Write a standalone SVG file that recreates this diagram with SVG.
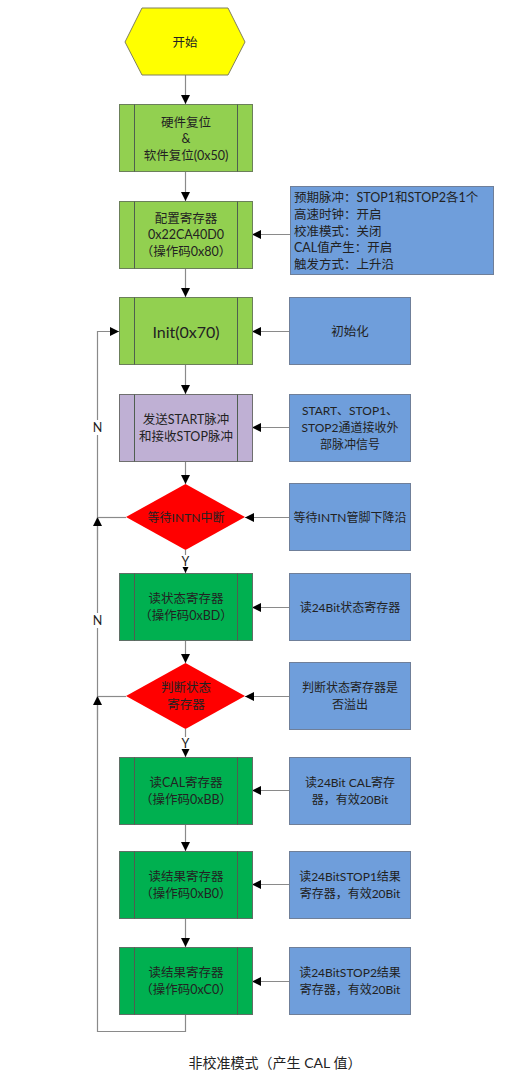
<svg xmlns="http://www.w3.org/2000/svg" width="532" height="1072" viewBox="0 0 532 1072">
<defs>
<marker id="ah" viewBox="0 0 10 10" refX="10" refY="5" markerWidth="9" markerHeight="9" markerUnits="userSpaceOnUse" orient="auto">
<path d="M0,0 L10,5 L0,10 z" fill="#000"/>
</marker>
<style>
text{font-family:Lato,"Noto Sans CJK SC",sans-serif;font-size:12.5px;fill:#222;text-anchor:middle;dominant-baseline:central}
.lg{fill:#92D050;stroke:#6b7f5a;stroke-width:1}
.dg{fill:#00B050;stroke:#5f6f66;stroke-width:1}
.pu{fill:#BFB0D4;stroke:#6f6f6f;stroke-width:1}
.bl{fill:#6F9EDB;stroke:#6f7f99;stroke-width:1}
.rd{fill:#FF0000;stroke:none}
.in{stroke:#4f5f4f;stroke-width:1;fill:none}
.c{stroke:#8a8a8a;stroke-width:1.2;fill:none}
.ca{stroke:#8a8a8a;stroke-width:1.2;fill:none;marker-end:url(#ah)}
.lt{text-anchor:start}
.sm{font-size:12px}
</style>
</defs>
<rect width="532" height="1072" fill="#fff"/>

<g id="connectors">
<line class="ca" x1="185.5" y1="75" x2="185.5" y2="104"/>
<line class="ca" x1="185.5" y1="172" x2="185.5" y2="201"/>
<line class="ca" x1="185.5" y1="268" x2="185.5" y2="297"/>
<line class="ca" x1="185.5" y1="364" x2="185.5" y2="394"/>
<line class="ca" x1="185.5" y1="461" x2="185.5" y2="484"/>
<line class="ca" x1="185.5" y1="550" x2="185.5" y2="573"/>
<line class="ca" x1="185.5" y1="641" x2="185.5" y2="663"/>
<line class="ca" x1="185.5" y1="729" x2="185.5" y2="757"/>
<line class="ca" x1="185.5" y1="824" x2="185.5" y2="851"/>
<line class="ca" x1="185.5" y1="918" x2="185.5" y2="947"/>
<line class="ca" x1="290" y1="234.5" x2="252" y2="234.5"/>
<line class="ca" x1="289" y1="331.5" x2="252" y2="331.5"/>
<line class="ca" x1="289" y1="427.5" x2="252" y2="427.5"/>
<line class="ca" x1="289" y1="517.5" x2="245" y2="517.5"/>
<line class="ca" x1="289" y1="607.5" x2="252" y2="607.5"/>
<line class="ca" x1="289" y1="696.5" x2="245" y2="696.5"/>
<line class="ca" x1="289" y1="790.5" x2="252" y2="790.5"/>
<line class="ca" x1="289" y1="884.5" x2="252" y2="884.5"/>
<line class="ca" x1="289" y1="981.5" x2="252" y2="981.5"/>
<polyline class="c" points="185.5,1014 185.5,1031.5 97.5,1031.5 97.5,696"/>
<line class="ca" x1="97.5" y1="720" x2="97.5" y2="696"/>
<line class="c" x1="126" y1="696.5" x2="97.5" y2="696.5"/>
<line class="c" x1="97.5" y1="696" x2="97.5" y2="517"/>
<line class="ca" x1="97.5" y1="540" x2="97.5" y2="517"/>
<line class="c" x1="126" y1="517.5" x2="97.5" y2="517.5"/>
<polyline class="ca" points="97.5,517 97.5,331.5 119,331.5"/>
<rect x="90" y="420" width="15" height="15" fill="#fff"/>
<text x="97.5" y="427.5">N</text>
<rect x="90" y="613" width="15" height="15" fill="#fff"/>
<text x="97.5" y="620">N</text>
<rect x="179" y="555" width="13" height="12" fill="#fff"/>
<text x="185.5" y="561">Y</text>
<rect x="179" y="737" width="13" height="12" fill="#fff"/>
<text x="185.5" y="743">Y</text>
</g>

<g id="start">
<polygon points="125,42 142,8 228,8 245,42 228,75 142,75" fill="#FFFF00" stroke="#7f7f5f" stroke-width="1"/>
<text x="185" y="42">开始</text>
</g>

<g id="reset">
<rect class="lg" x="119.5" y="104.5" width="133" height="67"/>
<line class="in" x1="134.5" y1="104.5" x2="134.5" y2="171.5"/>
<line class="in" x1="237.5" y1="104.5" x2="237.5" y2="171.5"/>
<text x="186" y="122">硬件复位</text>
<text x="186" y="138">&amp;</text>
<text x="186" y="155">软件复位(0x50)</text>
</g>

<g id="config">
<rect class="lg" x="119.5" y="201.5" width="133" height="67"/>
<line class="in" x1="134.5" y1="201.5" x2="134.5" y2="268.5"/>
<line class="in" x1="237.5" y1="201.5" x2="237.5" y2="268.5"/>
<text x="186" y="218">配置寄存器</text>
<text x="186" y="234">0x22CA40D0</text>
<text x="186" y="251">（操作码0x80）</text>
</g>

<g id="note-config">
<rect class="bl" x="290.5" y="186.5" width="203" height="88"/>
<text class="lt" x="294" y="197">预期脉冲：STOP1和STOP2各1个</text>
<text class="lt" x="294" y="214">高速时钟：开启</text>
<text class="lt" x="294" y="231">校准模式：关闭</text>
<text class="lt" x="294" y="247">CAL值产生：开启</text>
<text class="lt" x="294" y="264">触发方式：上升沿</text>
</g>

<g id="init">
<rect class="lg" x="119.5" y="297.5" width="133" height="67"/>
<line class="in" x1="134.5" y1="297.5" x2="134.5" y2="364.5"/>
<line class="in" x1="237.5" y1="297.5" x2="237.5" y2="364.5"/>
<text x="186" y="331" style="font-size:16px">Init(0x70)</text>
</g>

<g id="note-init">
<rect class="bl" x="289.5" y="297.5" width="121" height="67"/>
<text x="350" y="331">初始化</text>
</g>

<g id="pulse">
<rect class="pu" x="119.5" y="394.5" width="133" height="67"/>
<line class="in" x1="134.5" y1="394.5" x2="134.5" y2="461.5"/>
<line class="in" x1="237.5" y1="394.5" x2="237.5" y2="461.5"/>
<text x="186" y="419">发送START脉冲</text>
<text x="186" y="436">和接收STOP脉冲</text>
</g>

<g id="note-pulse">
<rect class="bl" x="289.5" y="394.5" width="121" height="67"/>
<text class="sm" x="350" y="410">START、STOP1、</text>
<text class="sm" x="350" y="427">STOP2通道接收外</text>
<text class="sm" x="350" y="444">部脉冲信号</text>
</g>

<g id="wait-intn">
<polygon class="rd" points="126,517 185.5,484 245,517 185.5,550"/>
<text class="sm" x="186" y="517">等待INTN中断</text>
</g>

<g id="note-intn">
<rect class="bl" x="289.5" y="483.5" width="121" height="67"/>
<text class="sm" x="350" y="517">等待INTN管脚下降沿</text>
</g>

<g id="read-status">
<rect class="dg" x="119.5" y="573.5" width="133" height="67"/>
<line class="in" x1="134.5" y1="573.5" x2="134.5" y2="640.5"/>
<line class="in" x1="237.5" y1="573.5" x2="237.5" y2="640.5"/>
<text x="186" y="598">读状态寄存器</text>
<text x="186" y="615">（操作码0xBD）</text>
</g>

<g id="note-status">
<rect class="bl" x="289.5" y="573.5" width="121" height="67"/>
<text class="sm" x="350" y="607">读24Bit状态寄存器</text>
</g>

<g id="check-status">
<polygon class="rd" points="126,696 185.5,663 245,696 185.5,729"/>
<text x="186" y="687">判断状态</text>
<text x="186" y="704">寄存器</text>
</g>

<g id="note-check">
<rect class="bl" x="289.5" y="662.5" width="121" height="67"/>
<text class="sm" x="350" y="687">判断状态寄存器是</text>
<text class="sm" x="350" y="704">否溢出</text>
</g>

<g id="read-cal">
<rect class="dg" x="119.5" y="757.5" width="133" height="67"/>
<line class="in" x1="134.5" y1="757.5" x2="134.5" y2="824.5"/>
<line class="in" x1="237.5" y1="757.5" x2="237.5" y2="824.5"/>
<text x="186" y="782">读CAL寄存器</text>
<text x="186" y="799">（操作码0xBB）</text>
</g>

<g id="note-cal">
<rect class="bl" x="289.5" y="757.5" width="121" height="67"/>
<text class="sm" x="350" y="782">读24Bit CAL寄存</text>
<text class="sm" x="350" y="799">器，有效20Bit</text>
</g>

<g id="read-stop1">
<rect class="dg" x="119.5" y="851.5" width="133" height="67"/>
<line class="in" x1="134.5" y1="851.5" x2="134.5" y2="918.5"/>
<line class="in" x1="237.5" y1="851.5" x2="237.5" y2="918.5"/>
<text x="186" y="876">读结果寄存器</text>
<text x="186" y="893">（操作码0xB0）</text>
</g>

<g id="note-stop1">
<rect class="bl" x="289.5" y="851.5" width="121" height="67"/>
<text class="sm" x="350" y="876">读24BitSTOP1结果</text>
<text class="sm" x="350" y="893">寄存器，有效20Bit</text>
</g>

<g id="read-stop2">
<rect class="dg" x="119.5" y="947.5" width="133" height="67"/>
<line class="in" x1="134.5" y1="947.5" x2="134.5" y2="1014.5"/>
<line class="in" x1="237.5" y1="947.5" x2="237.5" y2="1014.5"/>
<text x="186" y="972">读结果寄存器</text>
<text x="186" y="989">（操作码0xC0）</text>
</g>

<g id="note-stop2">
<rect class="bl" x="289.5" y="947.5" width="121" height="67"/>
<text class="sm" x="350" y="972">读24BitSTOP2结果</text>
<text class="sm" x="350" y="989">寄存器，有效20Bit</text>
</g>

<g id="caption">
<text x="275" y="1062" style="font-size:14px">非校准模式（产生 CAL 值）</text>
</g>
</svg>
